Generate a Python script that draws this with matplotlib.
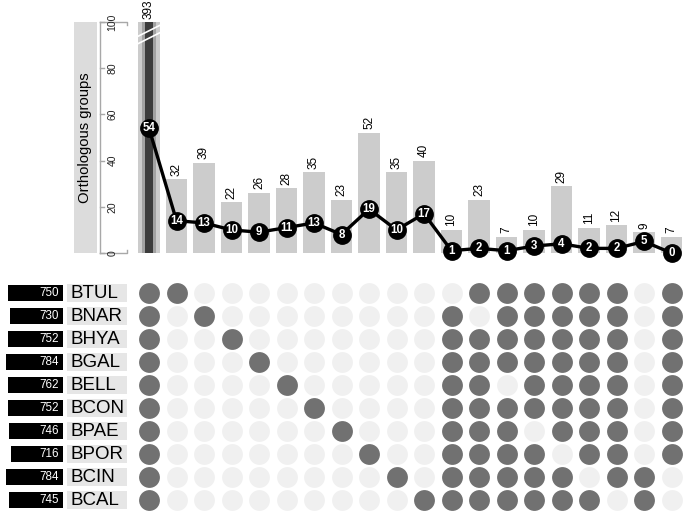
import matplotlib
matplotlib.use("Agg")
import matplotlib.pyplot as plt
import numpy as np

plt.rcParams['font.family'] = ['Liberation Sans', 'DejaVu Sans']

# ---- data ----
species = ["BTUL", "BNAR", "BHYA", "BGAL", "BELL", "BCON", "BPAE", "BPOR", "BCIN", "BCAL"]
set_sizes = [750, 730, 752, 784, 762, 752, 746, 716, 784, 745]
bar_counts = [393, 32, 39, 22, 26, 28, 35, 23, 52, 35, 40, 10, 23, 7, 10, 29, 11, 12, 9, 7]
line_values = [54, 14, 13, 10, 9, 11, 13, 8, 19, 10, 17, 1, 2, 1, 3, 4, 2, 2, 5, 0]
# membership: species included in each intersection column
memberships = [
    species,
    ["BTUL"], ["BNAR"], ["BHYA"], ["BGAL"], ["BELL"],
    ["BCON"], ["BPAE"], ["BPOR"], ["BCIN"], ["BCAL"],
    [s for s in species if s != "BTUL"],
    [s for s in species if s != "BNAR"],
    [s for s in species if s != "BELL"],
    [s for s in species if s != "BPAE"],
    [s for s in species if s != "BPOR"],
    [s for s in species if s != "BCIN"],
    [s for s in species if s != "BCAL"],
    ["BCIN", "BCAL"],
    [s for s in species if s not in ("BCIN", "BCAL")],
]
y_ticks = [0, 20, 40, 60, 80, 100]
y_label = "Orthologous groups"

# ---- style ----
W, H = 685, 512
BAR_C = "#cccccc"
DOT_ON = "#717171"
DOT_OFF = "#f0f0f0"
AX_C = "#a8a8a8"

fig = plt.figure(figsize=(W / 100, H / 100), dpi=100)

def px_axes(x0, y0, x1, y1):
    """axes from pixel box (top-left origin)"""
    return fig.add_axes([x0 / W, (H - y1) / H, (x1 - x0) / W, (y1 - y0) / H])

ncol = len(bar_counts)
xs = np.arange(ncol)
col_left, col_right = 135.25, 685.25
top_y0, top_y1 = 22, 253
ymax = 100

# ---- top bar chart ----
ax = px_axes(col_left, top_y0, col_right, top_y1)
ax.set_xlim(-0.5, ncol - 0.5)
ax.set_ylim(0, ymax)
ax.axis("off")
ax.bar(xs, bar_counts, width=0.77, color=BAR_C, zorder=1)
# highlighted first bar
ax.bar(xs[0], bar_counts[0], width=0.52, color="#a2a2a2", zorder=2)
ax.bar(xs[0], bar_counts[0], width=0.28, color="#3c3c3c", zorder=3)
# break marks on the truncated bar
for off in (0.0, 3.2):
    ax.plot([-0.42, 0.42], [90.5 + off, 95.5 + off], color="white", lw=1.2, zorder=4)
for x, v in zip(xs, bar_counts):
    ax.annotate(str(v), (x, min(v, ymax)), xytext=(0, 2.5), textcoords="offset points",
                rotation=90, ha="center", va="bottom", fontsize=8.5, annotation_clip=False)
# line
ax.plot(xs, line_values, color="black", lw=2.4, zorder=5, clip_on=False)
ax.plot(xs, line_values, "o", color="black", ms=12.5, zorder=6, clip_on=False)
for x, v in zip(xs, line_values):
    ax.text(x, v, str(v), color="white", ha="center", va="center", fontsize=8.3,
            fontweight="bold", zorder=7, clip_on=False)

# ---- y axis bracket ----
ay = px_axes(100, top_y0, 127, top_y1)
ay.set_xlim(0, 1)
ay.set_ylim(0, ymax)
ay.axis("off")
ay.plot([0, 0], [0, ymax], color=AX_C, lw=1.0, clip_on=False)
ay.plot([0, 1, 1], [ymax, ymax, ymax - 1.5], color=AX_C, lw=1.0, clip_on=False)
ay.plot([0, 1, 1], [0, 0, 1.5], color=AX_C, lw=1.0, clip_on=False)
for t in y_ticks:
    ay.plot([0, 0.15], [t, t], color=AX_C, lw=1.0, clip_on=False)
    ay.text(0.47, t, str(t), rotation=90, ha="center", va="center", fontsize=7.5, color="#222222")

# ---- y label box ----
al = px_axes(74, top_y0, 97, top_y1)
al.set_xticks([]); al.set_yticks([])
for s in al.spines.values():
    s.set_visible(False)
al.set_facecolor("#dcdcdc")
al.text(0.5, 0.5, y_label, rotation=90, ha="center", va="center", fontsize=10.7,
        transform=al.transAxes)

# ---- matrix ----
nrow = len(species)
mat_y0, mat_y1 = 281.5, 511.5
am = px_axes(col_left, mat_y0, col_right, mat_y1)
am.set_xlim(-0.5, ncol - 0.5)
am.set_ylim(nrow - 0.5, -0.5)
am.axis("off")
for j, mem in enumerate(memberships):
    for i, sp in enumerate(species):
        am.scatter(j, i, s=225, color=DOT_ON if sp in mem else DOT_OFF, linewidths=0)

# ---- set size bars ----
ab = px_axes(0, mat_y0, 63, mat_y1)
ab.set_xlim(866, 0)
ab.set_ylim(nrow - 0.5, -0.5)
ab.axis("off")
ys = np.arange(nrow)
ab.barh(ys, set_sizes, height=0.66, color="black")
for y, v in zip(ys, set_sizes):
    ab.annotate(str(v), (0, y), xytext=(-3.3, 0), textcoords="offset points",
                ha="right", va="center", color="white", fontsize=8.4)

# ---- species name boxes ----
an = px_axes(67, mat_y0, 127, mat_y1)
an.set_xlim(0, 1)
an.set_ylim(nrow - 0.5, -0.5)
an.axis("off")
an.barh(ys, [1] * nrow, left=0, height=0.74, color="#e6e6e6")
for y, sp in zip(ys, species):
    an.text(0.055, y + 0.02, sp, ha="left", va="center", fontsize=13.5, color="black")

fig.savefig("out.png", dpi=100)
